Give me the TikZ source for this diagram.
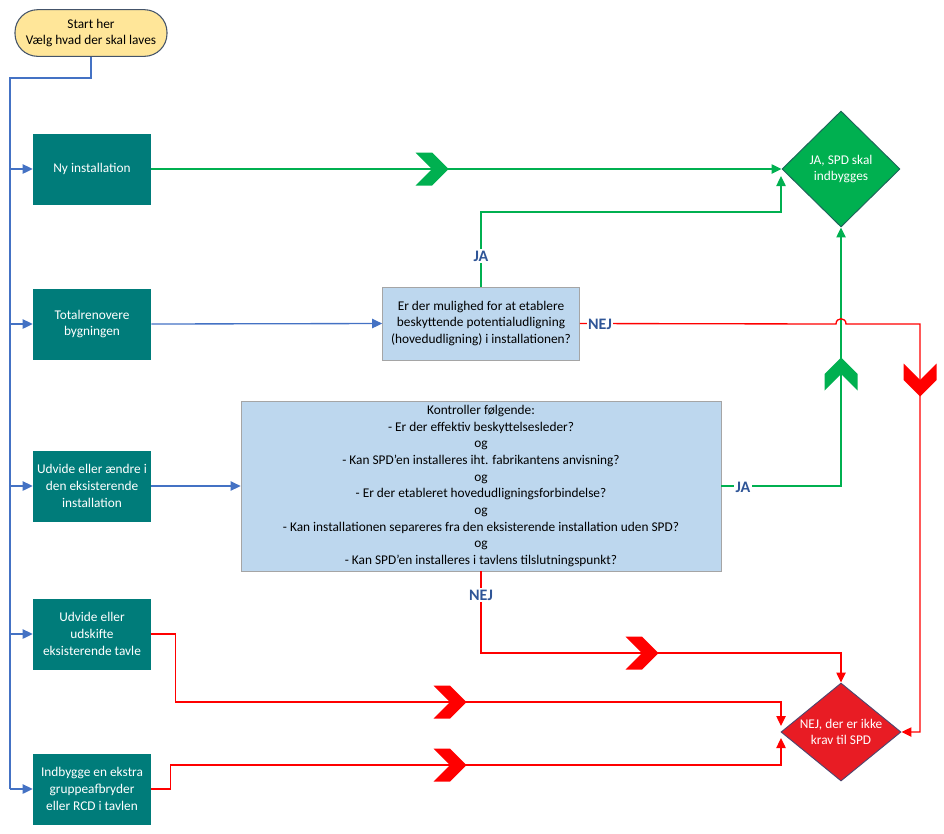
\documentclass[tikz,border=0pt]{standalone}
\usepackage{fontspec}
\setmainfont{Carlito}
\usetikzlibrary{shapes.geometric,arrows.meta}
\definecolor{boxteal}{RGB}{0,124,122}
\definecolor{jagreen}{RGB}{0,176,80}
\definecolor{jaedge}{RGB}{30,100,90}
\definecolor{nejred}{RGB}{255,0,0}
\definecolor{nejfill}{RGB}{232,28,36}
\definecolor{nejedge}{RGB}{80,70,110}
\definecolor{flowblue}{RGB}{68,114,196}
\definecolor{lblblue}{RGB}{47,85,151}
\definecolor{qfill}{RGB}{189,215,238}
\definecolor{qedge}{RGB}{165,165,165}
\definecolor{startfill}{RGB}{255,230,153}
\definecolor{startedge}{RGB}{68,84,106}
\begin{document}
\begin{tikzpicture}[x=0.75pt, y=-0.75pt,
    font=\fontsize{10}{12.5}\selectfont,
    tip/.style={-{Triangle[length=7.5pt,width=7pt]}},
    startbox/.style={draw=startedge, line width=0.8pt, fill=startfill, rounded corners=17pt,
      minimum width=114pt, minimum height=35pt, align=center, inner sep=1pt},
    choice/.style={fill=boxteal, text=white, minimum width=88.5pt, minimum height=53.25pt,
      align=center, inner sep=1pt},
    question/.style={draw=qedge, line width=0.5pt, fill=qfill, align=center, inner sep=1pt},
    jabox/.style={diamond, draw=jaedge, line width=0.7pt, fill=jagreen, inner sep=0pt,
      minimum width=88.5pt, minimum height=87pt},
    nejbox/.style={diamond, draw=nejedge, line width=0.7pt, fill=nejfill, inner sep=0pt,
      minimum width=90pt, minimum height=73.5pt},
    dtext/.style={text=white, align=center, inner sep=0pt},
    answer/.style={font=\bfseries\fontsize{12}{14}\selectfont, text=lblblue, fill=white, inner sep=1pt},
    blueline/.style={draw=flowblue, line width=1pt},
    bluearrow/.style={blueline, tip},
    jaarrow/.style={draw=jagreen, line width=1pt, tip},
    nejarrow/.style={draw=nejred, line width=1pt, tip},
    chevron/.pic={\fill (-16.5,-16.5) -- (0,-16.5) -- (16.5,0) -- (0,16.5) -- (-16.5,16.5) -- (0,0) -- cycle;}]
      \useasboundingbox (0,0) rectangle (944,833);
      %
      \node[startbox] (start) at (91,33) {Start her\\Vælg hvad der skal laves};
      %
      \node[choice] (ny) at (92,169) {Ny installation};           % left column
      \node[choice] (total) at (92,324) {Totalrenovere\\bygningen};
      \node[choice] (udvid) at (92,486) {Udvide eller ændre i\\den eksisterende\\installation};
      \node[choice] (tavle) at (92,634) {Udvide eller\\udskifte\\eksisterende tavle};
      \node[choice] (ekstra) at (92,789) {Indbygge en ekstra\\gruppeafbryder\\eller RCD i tavlen};
      %
      \node[question, minimum width=147.75pt, minimum height=54.75pt] (q1) at (481,323.5)
        {Er der mulighed for at etablere\\beskyttende potentialudligning\\(hovedudligning) i installationen?};
      \node[question, minimum width=360pt, minimum height=127.5pt] (kontrol) at (481,486)
        {Kontroller følgende:\\- Er der effektiv beskyttelsesleder?\\og\\- Kan SPD’en installeres iht. fabrikantens anvisning?\\og\\- Er der etableret hovedudligningsforbindelse?\\og\\- Kan installationen separeres fra den eksisterende installation uden SPD?\\og\\- Kan SPD’en installeres i tavlens tilslutningspunkt?};
      %
      \node[jabox] (ja) at (841,169) {};                          % results
      \node[dtext] (jatxt) at (ja) {JA, SPD skal\\indbygges};
      \node[nejbox] (nej) at (841,732) {};
      \node[dtext] (nejtxt) at (nej) {NEJ, der er ikke\\krav til SPD};
      %
      \coordinate (bend) at (10,78);                              % bends
      \coordinate (ja1) at (781,212);
      \coordinate (ja2) at (781,176);
      \coordinate (hop1) at (836,324);
      \coordinate (hop2) at (846,324);
      \coordinate (nejR) at (920,732);
      \coordinate (nejT) at (841,653);
      \coordinate (tv2) at (781,702);
      \coordinate (tv3) at (781,726);
      \coordinate (ek2) at (781,765);
      \coordinate (ek3) at (781,738);
      %
      \draw[blueline] (start.south) |- (bend) -- (bend |- ekstra.west); % trunk
      \foreach \b in {ny,total,udvid,tavle,ekstra}
        \draw[bluearrow] (bend |- \b.west) -- (\b.west);
      \draw[bluearrow] (total.east) -- (q1.west);
      \draw[bluearrow] (udvid.east) -- (kontrol.west);
      %
      \draw[jaarrow] (ny.east) -- (ja.west);                      % green
      \draw[jaarrow] (q1.north) |- (ja1) -- (ja2);
      \draw[jaarrow] (kontrol.east) -| (ja.south);
      %
      \draw[nejarrow] (q1.east) -- (hop1) .. controls (836,317) and (846,317) .. (hop2) -| (nejR) -- (nej.east); % red
      \draw[nejarrow] (kontrol.south) |- (nejT) -- (nej.north);
      \draw[nejarrow] (tavle.east) -- ++(24,0) |- (tv2) -- (tv3);
      \draw[nejarrow] (ekstra.east) -- ++(19,0) |- (ek2) -- (ek3);
      %
      \pic[color=jagreen] at (432,169) {chevron};                 % chevrons
      \pic[color=jagreen, rotate=90] at (841,374) {chevron};
      \pic[color=nejred, rotate=-90] at (920,380) {chevron};
      \pic[color=nejred] at (642,653) {chevron};
      \pic[color=nejred] at (450,702) {chevron};
      \pic[color=nejred] at (450,765) {chevron};
      %
      \node[answer] (jaup) at (481,256) {JA};                     % answers
      \node[answer] (nejq) at (600,324) {NEJ};
      \node[answer] (jaright) at (743,487) {JA};
      \node[answer] (nejdown) at (481,595) {NEJ};
      %
    \end{tikzpicture}
\end{document}
